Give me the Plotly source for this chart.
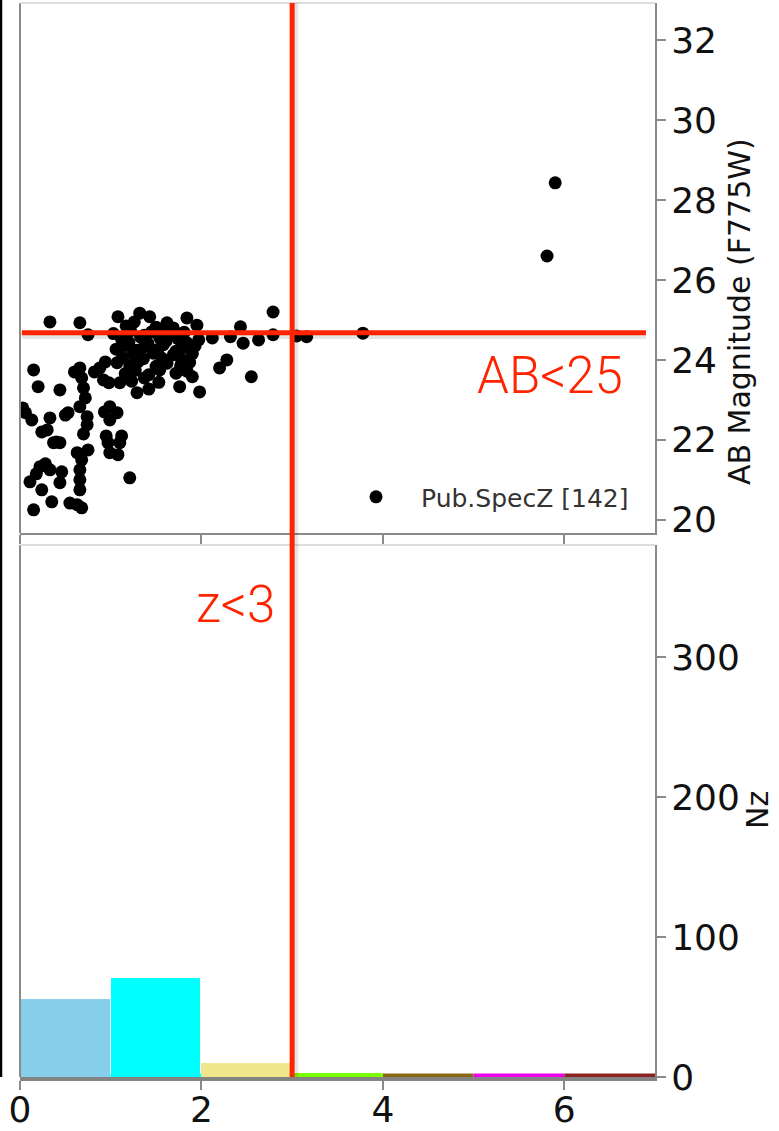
import plotly.graph_objects as go

# ---------------- data ----------------
# redshift (z) and AB magnitude (F775W) of published spec-z sources
z_vals = [
    # 0 < z < 1
    0.33, 0.66, 0.75, 0.15, 0.20, 0.44, 0.66, 0.68, 0.88, 0.92, 0.98, 0.72, 0.66, 0.74,
    0.74, 0.53, 0.33, 0.06, 0.13, 0.24, 0.37, 0.44, 0.63, 0.75, 0.99, 0.99, 0.97, 0.99,
    0.22, 0.33, 0.46, 0.11, 0.24, 0.44, 0.66, 0.66, 0.66, 0.35, 0.15, 0.63, 0.68, 0.03,
    0.70, 0.68, 0.28, 0.18, 0.50, 0.93, 0.82, 0.70, 0.40, 0.30, 0.94, 0.60, 0.95, 0.55,
    # 1 < z < 2
    1.08, 1.32, 1.43, 1.84, 1.07, 1.10, 1.08, 1.21, 1.29, 1.76, 1.90, 1.98, 1.10, 1.12,
    1.17, 1.26, 1.50, 1.62, 1.69, 1.95,
    1.03, 1.22, 1.37, 1.45, 1.57, 1.64, 1.81,
    1.12, 1.20, 1.33, 1.41, 1.54, 1.61, 1.74, 1.84, 1.97,
    1.06, 1.15, 1.29, 1.37, 1.52, 1.58, 1.72, 1.80, 1.93,
    1.13, 1.24, 1.36, 1.47, 1.56, 1.69, 1.78, 1.90,
    1.07, 1.21, 1.30, 1.50, 1.62, 1.77, 1.87,
    1.16, 1.27, 1.42, 1.54, 1.72, 1.84,
    1.23, 1.37, 1.53,
    1.42,
    # 2 < z < 3
    2.43, 2.32, 2.46, 2.63, 2.79, 2.79, 2.28, 2.20, 2.55, 2.12,
    # z > 3
    3.05, 3.16, 3.78,
    5.81, 5.90,
]
mag_vals = [
    24.95, 24.93, 24.63, 23.75, 23.33, 23.25, 23.80, 23.55, 23.80, 23.50, 23.43, 23.05, 22.83, 22.58,
    22.38, 22.68, 22.55, 22.68, 22.50, 22.20, 21.93, 21.93, 21.68, 21.75, 22.83, 22.50, 21.93, 21.68,
    21.33, 21.25, 21.20, 20.95, 20.75, 20.93, 21.25, 21.00, 20.75, 20.45, 20.25, 20.38, 20.30, 22.80,
    22.15, 21.50, 21.40, 21.15, 22.62, 22.70, 23.70, 23.30, 21.95, 22.25, 23.95, 23.70, 22.10, 20.42,
    25.08, 25.17, 25.08, 25.05, 22.68, 21.93, 21.63, 21.05, 23.18, 23.33, 23.58, 23.20, 23.43, 22.10,
    24.85, 24.95, 24.82, 24.93, 24.80, 24.87,
    24.66, 24.73, 24.62, 24.70, 24.75, 24.64, 24.69,
    24.52, 24.44, 24.57, 24.41, 24.55, 24.47, 24.53, 24.43, 24.50,
    24.27, 24.36, 24.24, 24.33, 24.26, 24.38, 24.22, 24.31, 24.35,
    24.06, 24.15, 24.03, 24.17, 24.05, 24.13, 24.02, 24.16,
    23.93, 23.86, 23.95, 23.84, 23.92, 23.85, 23.94,
    23.66, 23.74, 23.63, 23.75, 23.67, 23.72,
    23.47, 23.55, 23.44,
    23.27,
    24.83, 24.58, 24.42, 24.50, 24.63, 25.20, 24.00, 23.80, 23.58, 24.55,
    24.60, 24.58, 24.67,
    26.60, 28.43,
]

# N(z) histogram, bins of width 1 from 0 to 7
bin_left = [0, 1, 2, 3, 4, 5, 6]
nz_counts = [56, 71, 10, 3, 0, 2, 0]
bin_colors = ["#87CEEB", "#00FFFF", "#F0E68C", "#7CFC00", "#8B6914", "#EE00EE", "#8B2323"]

x_ticks = [0, 2, 4, 6]
mag_ticks = [20, 22, 24, 26, 28, 30, 32]
nz_ticks = [0, 100, 200, 300]

z_cut = 3
mag_cut = 24.68
legend_label = "Pub.SpecZ [142]"

# ---------------- figure ----------------
fig = go.Figure()

fig.add_trace(go.Scatter(
    x=z_vals, y=mag_vals, mode="markers", name=legend_label,
    marker=dict(color="black", size=13, line=dict(width=0)),
    xaxis="x", yaxis="y", showlegend=True,
))

# thin coloured strip for every bin (also for empty bins)
for left, col in zip(bin_left, bin_colors):
    fig.add_trace(go.Scatter(
        x=[left, left + 1], y=[0, 0], mode="lines",
        line=dict(color=col, width=7), xaxis="x2", yaxis="y2",
        showlegend=False, hoverinfo="skip",
    ))

fig.add_trace(go.Bar(
    x=[b + 0.5 for b in bin_left], y=nz_counts, width=1,
    marker=dict(color=bin_colors, line=dict(color="white", width=1)),
    xaxis="x2", yaxis="y2", showlegend=False,
))

axis_grey = "#8a8a8a"
tick_font = dict(family="DejaVu Sans", size=36, color="#111")

top_dom = [0.5065, 1.0]
bot_dom = [0.0, 0.4953]

fig.update_layout(
    width=779, height=1131,
    margin=dict(l=20, r=124, t=3, b=54, autoexpand=False),
    plot_bgcolor="white", paper_bgcolor="white",
    bargap=0,
    xaxis=dict(domain=[0, 1], range=[0, 7], anchor="y", automargin=False,
               tickvals=x_ticks, showticklabels=False, ticks="outside",
               ticklen=9, tickwidth=1.5, tickcolor=axis_grey,
               showline=True, linecolor=axis_grey, linewidth=2,
               showgrid=False, zeroline=False),
    yaxis=dict(domain=top_dom, range=[19.67, 32.93], anchor="x", side="right", automargin=False,
               tickvals=mag_ticks, ticks="outside", ticklen=9, tickwidth=1.5,
               tickcolor=axis_grey, tickfont=tick_font, ticklabelstandoff=-2,
               showline=True, linecolor=axis_grey, linewidth=2,
               showgrid=False, zeroline=False),
    xaxis2=dict(domain=[0, 1], range=[0, 7], anchor="y2", automargin=False,
                tickvals=x_ticks, ticks="outside", ticklen=9, tickwidth=1.5,
                tickcolor=axis_grey, tickfont=tick_font, ticklabelstandoff=-11,
                showline=True, linecolor="rgba(90,90,90,0.75)", linewidth=4,
                showgrid=False, zeroline=False),
    yaxis2=dict(domain=bot_dom, range=[0, 380], anchor="x2", side="right", automargin=False,
                tickvals=nz_ticks, ticks="outside", ticklen=9, tickwidth=1.5,
                tickcolor=axis_grey, tickfont=tick_font, ticklabelstandoff=-2,
                showline=True, linecolor=axis_grey, linewidth=2,
                showgrid=False, zeroline=False),
    legend=dict(x=0.4898, y=0.540, xanchor="left", yanchor="middle",
                bgcolor="rgba(0,0,0,0)", itemwidth=80,
                font=dict(family="DejaVu Sans", size=25, color="#333"),
                itemsizing="trace"),
)

shapes = []
# panel borders (left / top) for both panels
for dom in (top_dom, bot_dom):
    shapes.append(dict(type="line", xref="paper", yref="paper", x0=0, x1=0,
                       y0=dom[0], y1=dom[1], line=dict(color=axis_grey, width=2)))
    shapes.append(dict(type="line", xref="paper", yref="paper", x0=0, x1=1,
                       y0=dom[1], y1=dom[1], line=dict(color="#dddddd", width=2)))
# far-left black frame line
shapes.append(dict(type="line", xref="paper", yref="paper", x0=-0.0299, x1=-0.0299,
                   y0=0.0, y1=1.003, line=dict(color="black", width=2.5)))
# soft shadows of the cut lines
shapes.append(dict(type="line", xref="x", yref="paper", x0=z_cut + 0.035, x1=z_cut + 0.035,
                   y0=0, y1=1, line=dict(color="rgba(0,0,0,0.10)", width=6)))
shapes.append(dict(type="line", xref="x", yref="y", x0=0.02, x1=6.9,
                   y0=mag_cut - 0.08, y1=mag_cut - 0.08, line=dict(color="rgba(0,0,0,0.10)", width=6)))
# red cut lines
shapes.append(dict(type="line", xref="x", yref="paper", x0=z_cut, x1=z_cut,
                   y0=0, y1=1, line=dict(color="#FF2400", width=5)))
shapes.append(dict(type="line", xref="x", yref="y", x0=0.02, x1=6.9,
                   y0=mag_cut, y1=mag_cut, line=dict(color="#FF2400", width=5)))
fig.update_layout(shapes=shapes)

red_font = dict(family="Roboto", size=51, color="#FF2400", weight=300)
fig.add_annotation(text="AB&lt;25", xref="paper", yref="paper", x=0.953, y=0.6536,
                   xanchor="right", yanchor="middle", showarrow=False, font=red_font)
fig.add_annotation(text="z&lt;3", xref="paper", yref="paper", x=0.4047, y=0.4395,
                   xanchor="right", yanchor="middle", showarrow=False, font=red_font)
fig.add_annotation(text="AB Magnitude (F775W)", xref="paper", yref="paper", x=1.134, y=0.7123,
                   xanchor="center", yanchor="middle", textangle=-90, showarrow=False,
                   font=dict(family="DejaVu Sans", size=30, color="#111"))
fig.add_annotation(text="Nz", xref="paper", yref="paper", x=1.1606, y=0.2486,
                   xanchor="center", yanchor="middle", textangle=-90, showarrow=False,
                   font=dict(family="DejaVu Sans", size=30, color="#111"))

fig.write_html("out.html", config={"displayModeBar": False})

# remove the default 8px page margin so the figure sits at the window origin
with open("out.html", encoding="utf-8") as f:
    html = f.read()
html = html.replace("<head>", "<head><style>html,body{margin:0;padding:0;overflow:hidden;}</style>", 1)
with open("out.html", "w", encoding="utf-8") as f:
    f.write(html)
